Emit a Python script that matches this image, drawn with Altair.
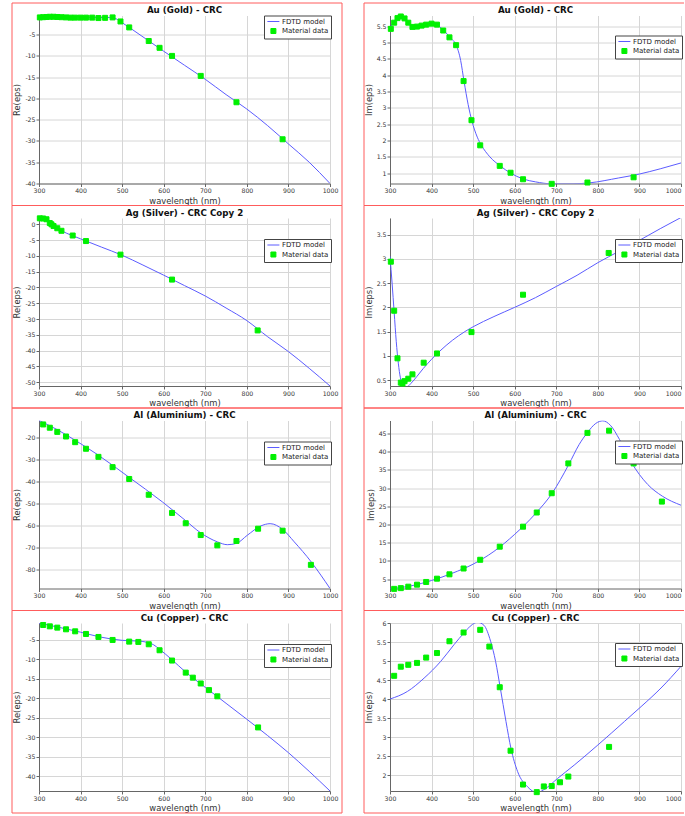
import altair as alt
import pandas as pd

SERIES = ["FDTD model", "Material data"]
X_TICKS = [300, 400, 500, 600, 700, 800, 900, 1000]
BLUE = "#5c5cff"
GREEN = "#00f000"
RED = "#ff5c5c"
LINE_SYMBOL = "M-2.4,0H2.4"

# ---------------- Au (Gold) ----------------
AU_WL = [302, 310, 318, 326, 335, 344, 354, 365, 376, 387, 400, 413, 428, 443, 459, 477,
         496, 517, 564, 590, 620, 689, 775, 886]
AU_RE = [-0.95, -0.9, -0.85, -0.8, -0.8, -0.85, -0.9, -0.95, -1.0, -1.0, -1.0, -1.0, -1.0,
         -1.1, -1.05, -0.95, -1.9, -3.3, -6.5, -8.1, -10.0, -14.7, -20.9, -29.6]
AU_IM = [5.42, 5.61, 5.75, 5.80, 5.74, 5.61, 5.48, 5.49, 5.52, 5.55, 5.58, 5.55, 5.37, 5.16,
         4.92, 3.82, 2.62, 1.85, 1.22, 1.01, 0.81, 0.67, 0.71, 0.87]
AU_RE_MWL = [300, 320, 340, 360, 380, 400, 440, 470, 485, 500, 520, 560, 600, 650, 700, 750,
             800, 850, 900, 950, 1000]
AU_RE_MOD = [-0.85, -0.65, -0.52, -0.55, -0.7, -0.85, -0.95, -0.97, -1.25, -2.2, -3.5, -6.2,
             -8.9, -12.2, -15.5, -19.1, -22.5, -26.4, -30.7, -35.0, -40.0]
AU_IM_MWL = [300, 310, 325, 340, 355, 370, 385, 400, 415, 430, 445, 460, 470, 478, 488, 497,
             510, 520, 540, 565, 590, 620, 650, 690, 740, 780, 850, 900, 950, 1000]
AU_IM_MOD = [5.45, 5.65, 5.8, 5.68, 5.5, 5.5, 5.55, 5.58, 5.52, 5.36, 5.15, 4.9, 4.45, 3.82,
             3.1, 2.6, 2.1, 1.85, 1.5, 1.22, 1.0, 0.82, 0.73, 0.67, 0.67, 0.70, 0.85, 0.97,
             1.13, 1.31]

# ---------------- Ag (Silver) ----------------
AG_WL = [302, 310, 318, 326, 330, 335, 344, 354, 381, 413, 496, 620, 826]
AG_RE = [1.9, 1.85, 1.6, 0.4, 0.0, -0.55, -1.25, -2.05, -3.55, -5.3, -9.6, -17.5, -33.6]
AG_IM = [2.94, 1.93, 0.95, 0.45, 0.43, 0.48, 0.53, 0.62, 0.86, 1.05, 1.49, 2.26, 3.12]
AG_RE_MWL = [300, 315, 330, 354, 400, 450, 500, 550, 600, 650, 700, 750, 800, 850, 900, 950, 1000]
AG_RE_MOD = [2.0, 1.3, 0.0, -2.0, -4.6, -7.2, -9.8, -12.9, -16.1, -19.4, -22.7, -26.5, -30.5,
             -35.6, -40.3, -45.6, -51.2]
AG_IM_MWL = [300, 305, 310, 315, 320, 325, 330, 336, 342, 350, 365, 380, 400, 420, 450, 480,
             500, 550, 600, 650, 700, 750, 800, 850, 900, 950, 1000]
AG_IM_MOD = [3.05, 2.5, 1.9, 1.3, 0.85, 0.55, 0.42, 0.37, 0.37, 0.43, 0.58, 0.74, 0.93, 1.1,
             1.32, 1.5, 1.6, 1.81, 2.0, 2.2, 2.43, 2.66, 2.92, 3.15, 3.38, 3.62, 3.85]

# ---------------- Al (Aluminium) ----------------
AL_WL = [310, 326, 344, 365, 387, 413, 443, 477, 517, 564, 620, 653, 689, 729, 775, 827, 886, 954]
AL_RE = [-13.9, -15.4, -17.3, -19.4, -22.0, -25.0, -28.7, -33.4, -38.8, -46.0, -54.3, -59.0,
         -64.4, -69.1, -67.1, -61.5, -62.4, -78.0]
AL_IM = [2.3, 2.5, 2.9, 3.45, 4.2, 5.1, 6.3, 7.9, 10.3, 13.9, 19.4, 23.3, 28.6, 36.8, 45.2,
         45.8, 36.8, 26.3]
AL_RE_MWL = [300, 343, 385, 441, 515, 597, 652, 689, 729, 753, 775, 801, 833, 856, 886, 914,
             955, 978, 1000]
AL_RE_MOD = [-12.1, -16.2, -20.9, -27.7, -37.8, -49.3, -57.7, -63.4, -67.5, -68.8, -68.2, -64.5,
             -60.3, -59.2, -61.8, -67.5, -76.7, -82.7, -88.8]
AL_IM_MWL = [300, 350, 400, 450, 500, 550, 600, 650, 690, 730, 755, 775, 795, 812, 830, 852,
             880, 920, 955, 1000]
AL_IM_MOD = [2.3, 3.1, 4.6, 6.6, 9.1, 12.6, 17.3, 23.0, 28.6, 36.5, 42.0, 45.3, 47.8, 48.5,
             47.3, 43.4, 37.2, 31.0, 27.8, 25.3]

# ---------------- Cu (Copper) ----------------
CU_WL = [310, 326, 344, 365, 387, 413, 443, 477, 517, 539, 564, 590, 620, 653, 670, 689, 709,
         729, 827]
CU_RE = [-1.15, -1.5, -1.83, -2.26, -2.78, -3.46, -4.23, -5.0, -5.43, -5.51, -6.11, -7.65,
         -10.3, -13.4, -14.7, -16.2, -17.9, -19.5, -27.5]
CU_IM = [4.61, 4.85, 4.90, 4.95, 5.09, 5.21, 5.52, 5.75, 5.82, 5.38, 4.31, 2.64, 1.75, 1.55,
         1.70, 1.71, 1.81, 1.96, 2.74]
CU_RE_MWL = [300, 350, 400, 450, 500, 540, 560, 575, 590, 620, 650, 700, 750, 800, 850, 900,
             950, 1000]
CU_RE_MOD = [-0.64, -1.8, -3.0, -4.3, -5.1, -5.3, -5.6, -6.2, -7.4, -10.1, -13.0, -17.2, -21.3,
             -25.4, -29.6, -34.0, -38.8, -43.85]
CU_IM_MWL = [300, 342, 382, 422, 454, 478, 498, 510, 526, 542, 554, 565, 579, 591, 607, 631,
             653, 675, 703, 743, 800, 864, 904, 952, 1000]
CU_IM_MOD = [4.0, 4.2, 4.55, 4.99, 5.43, 5.74, 5.96, 6.02, 5.94, 5.52, 4.99, 4.31, 3.41, 2.70,
             2.09, 1.69, 1.54, 1.65, 1.91, 2.26, 2.79, 3.41, 3.80, 4.29, 4.86]

TITLES = ["Au (Gold) - CRC", "Au (Gold) - CRC",
          "Ag (Silver) - CRC Copy 2", "Ag (Silver) - CRC Copy 2",
          "Al (Aluminium) - CRC", "Al (Aluminium) - CRC",
          "Cu (Copper) - CRC", "Cu (Copper) - CRC"]
Y_LABELS = ["Re(eps)", "Im(eps)"] * 4

Y_DOMAINS = [[-40, -0.5], [0.68, 5.83],
             [-51.2, 2.0], [0.38, 3.84],
             [-88.8, -12.1], [2.4, 48.6],
             [-43.85, -0.64], [1.58, 6.0]]
Y_TICKS = [[-40, -35, -30, -25, -20, -15, -10, -5],
           [1, 1.5, 2, 2.5, 3, 3.5, 4, 4.5, 5, 5.5],
           [-50, -45, -40, -35, -30, -25, -20, -15, -10, -5, 0],
           [0.5, 1, 1.5, 2, 2.5, 3, 3.5],
           [-80, -70, -60, -50, -40, -30, -20],
           [5, 10, 15, 20, 25, 30, 35, 40, 45],
           [-40, -35, -30, -25, -20, -15, -10, -5],
           [2, 2.5, 3, 3.5, 4, 4.5, 5, 5.5, 6]]

PANELS = [
    (AU_RE_MWL, AU_RE_MOD, AU_WL, AU_RE),
    (AU_IM_MWL, AU_IM_MOD, AU_WL, AU_IM),
    (AG_RE_MWL, AG_RE_MOD, AG_WL, AG_RE),
    (AG_IM_MWL, AG_IM_MOD, AG_WL, AG_IM),
    (AL_RE_MWL, AL_RE_MOD, AL_WL, AL_RE),
    (AL_IM_MWL, AL_IM_MOD, AL_WL, AL_IM),
    (CU_RE_MWL, CU_RE_MOD, CU_WL, CU_RE),
    (CU_IM_MWL, CU_IM_MOD, CU_WL, CU_IM),
]
LEGEND_Y = [0, 20, 21, 21, 21, 20, 21, 20]

W, H = 291, 168
FONT = "DejaVu Sans"
PLAIN_LABEL = "toString(datum.value)"


def make_panel(i):
    mwl, mval, dwl, dval = PANELS[i]
    col = i % 2
    model = pd.DataFrame({"wl": mwl, "v": mval})
    data = pd.DataFrame({"wl": dwl, "v": dval, "series": SERIES[1]})

    x_axis_kw = dict(values=X_TICKS, title="wavelength (nm)", labelFlush=False,
                     labelExpr=PLAIN_LABEL, titlePadding=2.5)
    if col == 1:
        # keep the last label inside the page at the right edge
        x_axis_kw["labelAlign"] = {"condition": {"test": "datum.value >= 1000", "value": "right"},
                                   "value": "center"}
    x = alt.X("wl:Q",
              scale=alt.Scale(domain=[300, 1000], nice=False, zero=False),
              axis=alt.Axis(**x_axis_kw))
    y = alt.Y("v:Q",
              scale=alt.Scale(domain=Y_DOMAINS[i], nice=False, zero=False),
              axis=alt.Axis(values=Y_TICKS[i], title=Y_LABELS[i], labelFlush=False,
                            labelExpr=PLAIN_LABEL, titlePadding=3))

    legend = alt.Legend(title=None, orient="none", legendX=W - 66, legendY=LEGEND_Y[i],
                        fillColor="white", strokeColor="#444", padding=2.5,
                        labelFont=FONT, labelFontSize=7, labelColor="#222",
                        labelOffset=5, symbolOffset=3.4, symbolSize=25,
                        symbolStrokeWidth=1, rowPadding=1.5, labelLimit=200)

    border = alt.Chart(pd.DataFrame({"k": [0]})).mark_rect(
        filled=False, color=RED, strokeWidth=1
    ).encode(
        x=alt.value(-27 if col == 0 else -26),
        x2=alt.value(W + 12 if col == 0 else W + 5),
        y=alt.value(-12.5),
        y2=alt.value(H + 22),
    )

    line = alt.Chart(model).mark_line(
        color=BLUE, strokeWidth=1, interpolate="monotone", clip=True
    ).encode(x=x, y=y)

    pts = alt.Chart(data).mark_point(
        filled=True, size=25, strokeWidth=1, opacity=1
    ).encode(
        x=x, y=y,
        shape=alt.Shape("series:N", scale=alt.Scale(domain=SERIES, range=[LINE_SYMBOL, "square"]),
                        legend=legend),
        fill=alt.Fill("series:N", scale=alt.Scale(domain=SERIES, range=[BLUE, GREEN]),
                      legend=legend),
        stroke=alt.Stroke("series:N", scale=alt.Scale(domain=SERIES, range=[BLUE, GREEN]),
                          legend=legend),
    )

    title = alt.Chart(pd.DataFrame({"t": [TITLES[i]]})).mark_text(
        font=FONT, fontSize=8.7, fontWeight="bold", color="#111",
        align="center", baseline="alphabetic"
    ).encode(x=alt.value(W / 2), y=alt.value(-2.5), text="t:N")

    return alt.layer(border, line, pts, title).properties(width=W, height=H)


chart = alt.concat(
    *[make_panel(i) for i in range(8)],
    columns=2,
    spacing={"row": 34.5, "column": 60},
    bounds="flush",
).resolve_scale(
    fill="independent", stroke="independent", shape="independent"
).properties(
    padding={"left": 11, "top": 2.5, "right": -3, "bottom": 0},
    background="white",
).configure_view(
    stroke=None
).configure_axis(
    labelFont=FONT, labelFontSize=6.2, labelColor="#333", labelPadding=1,
    titleFont=FONT, titleFontSize=8.4, titleFontWeight="normal", titleColor="#333",
    domainColor="#666", tickColor="#666", tickSize=3,
    gridColor="#d6d6d6", gridWidth=1,
)

chart.save("out.html", embed_options={"renderer": "svg", "actions": False})
